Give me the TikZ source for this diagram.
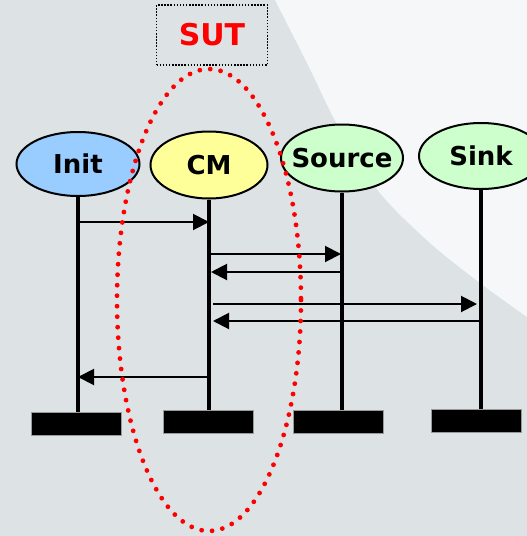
\documentclass[tikz,border=0pt]{standalone}
\usepackage{fontspec}
\setsansfont{DejaVu Sans}
\usetikzlibrary{shapes.geometric,arrows.meta}
\definecolor{bggray}{RGB}{221,226,229}
\definecolor{bglight}{RGB}{245,247,248}
\definecolor{initblue}{RGB}{153,204,255}
\definecolor{cmyellow}{RGB}{255,255,153}
\definecolor{actgreen}{RGB}{204,255,204}
\tikzset{
  actor/.style={ellipse, draw=black, line width=2pt, inner sep=0pt},
  actorname/.style={inner sep=0pt,
    font=\sffamily\bfseries\fontsize{26}{28}\selectfont},
  endbar/.style={rectangle, fill=black, draw=gray!80, line width=0.8pt,
    minimum width=90pt, minimum height=23pt, inner sep=0pt},
  life/.style={line width=3.2pt},
  msg/.style={line width=2pt, -{Triangle[length=16pt,width=16pt]}},
  sutbox/.style={draw=black, line width=1.5pt, dash pattern=on 1.5pt off 1.6pt,
    minimum width=111pt, minimum height=60pt, inner sep=0pt,
    text=red, font=\sffamily\bfseries\fontsize{30}{32}\selectfont},
  sutring/.style={draw=red, line width=4.8pt, line cap=round,
    dash pattern=on 0pt off 10.5pt}
}
\begin{document}
\begin{tikzpicture}[x=1pt,y=-1pt]
% page area and backdrop
\useasboundingbox (0,0) rectangle (527,536);
\clip (0,0) rectangle (527,536);
\fill[bggray] (0,0) rectangle (527,536);
\fill[bglight] plot[smooth] coordinates {(275,0) (308,65) (340,130) (380,193) (430,243) (480,283) (527,317)}
  -- (527,0) -- cycle;

% system under test label
\node[sutbox] (sut) at (212,35) {SUT};

% participants
\node[actor, fill=initblue, minimum width=123pt, minimum height=64pt,
  label={[actorname]center:Init}] (init) at (78,164) {};
\node[actor, fill=cmyellow, minimum width=117pt, minimum height=67pt,
  label={[actorname]center:CM}] (cm) at (209,165) {};
\node[actor, fill=actgreen, minimum width=122pt, minimum height=67pt,
  label={[actorname]center:Source}] (source) at (342,158) {};
\node[actor, fill=actgreen, minimum width=124pt, minimum height=66pt,
  label={[actorname]center:Sink}] (sink) at (481,156) {};

% end markers
\node[endbar] (initbar) at (76,424) {};
\node[endbar] (cmbar) at (208,422) {};
\node[endbar] (sourcebar) at (338.5,422) {};
\node[endbar] (sinkbar) at (476,421) {};

% lifelines
\draw[life] (init.south) -- (init.south |- initbar.north);
\draw[life] (cm.south) -- (cm.south |- cmbar.north);
\draw[life] (source.south) -- (source.south |- sourcebar.north);
\draw[life] (sink.south) -- (sink.south |- sinkbar.north);

% message rows
\coordinate (m1) at (0,222);
\coordinate (m2) at (0,254);
\coordinate (m3) at (0,272);
\coordinate (m4) at (0,304);
\coordinate (m5) at (0,321);
\coordinate (m6) at (0,377);

% messages
\draw[msg] (init.south |- m1) -- (cm.south |- m1);
\draw[msg] (cm.south |- m2) -- ([xshift=-1pt]source.south |- m2);
\draw[msg] (source.south |- m3) -- ([xshift=2pt]cm.south |- m3);
\draw[msg] ([xshift=4pt]cm.south |- m4) -- ([xshift=-4pt]sink.south |- m4);
\draw[msg] (sink.south |- m5) -- ([xshift=4pt]cm.south |- m5);
\draw[msg] (cm.south |- m6) -- (init.south |- m6);

% boundary of the system under test
\draw[sutring] (209,300) ellipse [x radius=92, y radius=231];
\end{tikzpicture}
\end{document}
